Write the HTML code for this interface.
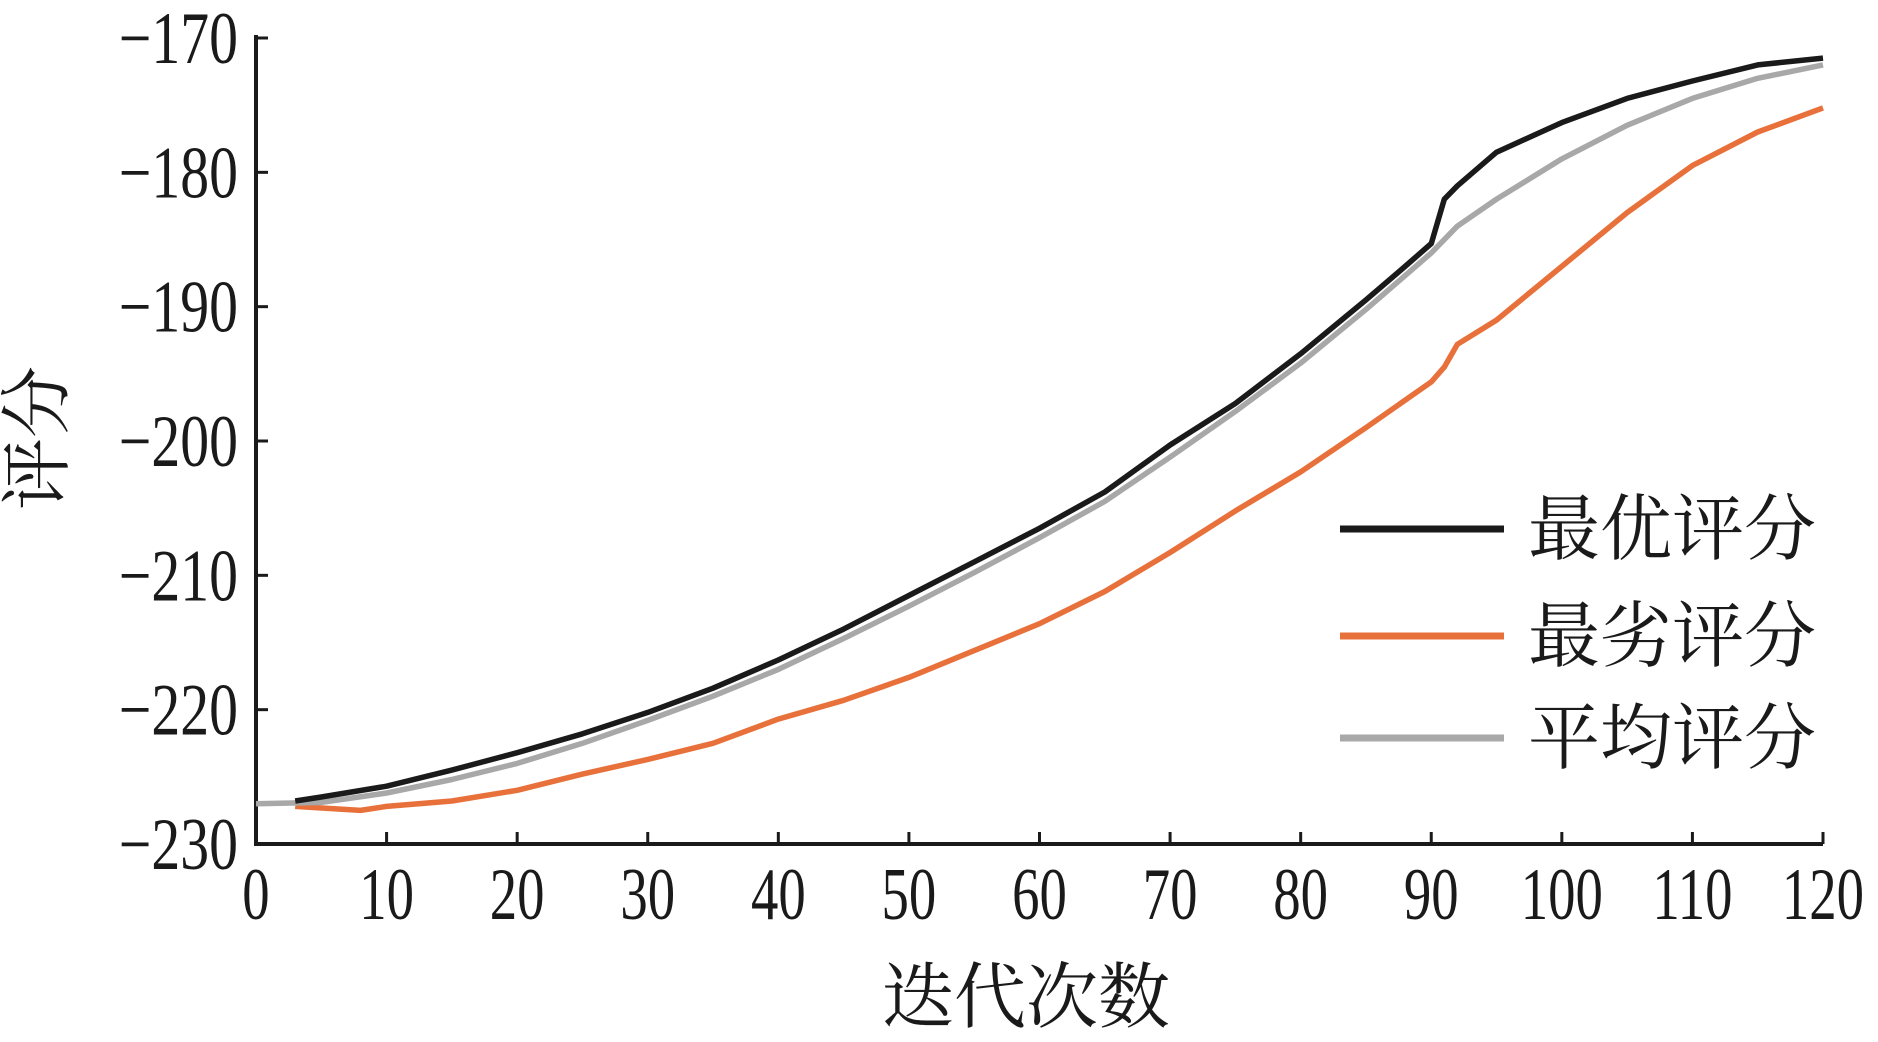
<!DOCTYPE html>
<html><head><meta charset="utf-8"><style>
html,body{margin:0;padding:0;background:#fff;}
svg{display:block;}
text{font-family:"Liberation Serif","Noto Serif CJK SC",serif;fill:#1a1a1a;}
</style></head><body>
<svg id="chart" width="1878" height="1042" viewBox="0 0 1878 1042" xmlns="http://www.w3.org/2000/svg">
<g id="axes"></g>
<g id="series"></g>
<g id="legend"></g>
</svg>
<script>
const xTicks=[0,10,20,30,40,50,60,70,80,90,100,110,120];
const yTicks=[-170,-180,-190,-200,-210,-220,-230];
const bestX=[3,5,10,15,20,25,30,35,40,45,50,55,60,65,70,75,80,85,88,90,91,92,95,100,105,110,115,120];
const bestY=[-226.8,-226.5,-225.7,-224.5,-223.2,-221.8,-220.2,-218.4,-216.3,-214,-211.5,-209,-206.5,-203.8,-200.3,-197.2,-193.5,-189.5,-187,-185.3,-182,-181,-178.5,-176.3,-174.5,-173.2,-172,-171.5];
const worstX=[3,8,10,15,20,25,30,35,40,45,50,55,60,65,70,75,80,85,90,91,92,95,100,105,110,115,120];
const worstY=[-227.2,-227.5,-227.2,-226.8,-226,-224.8,-223.7,-222.5,-220.7,-219.3,-217.6,-215.6,-213.6,-211.2,-208.3,-205.2,-202.3,-199,-195.6,-194.5,-192.8,-191,-187,-183,-179.5,-177,-175.2];
const avgX=[0,5,10,15,20,25,30,35,40,45,50,55,60,65,70,75,80,85,90,92,95,100,105,110,115,120];
const avgY=[-227,-226.9,-226.2,-225.2,-224,-222.5,-220.8,-219,-217,-214.7,-212.3,-209.8,-207.2,-204.5,-201.2,-197.8,-194.2,-190.2,-186,-184,-182,-179,-176.5,-174.5,-173,-172];
const seriesNames=["最优评分","最劣评分","平均评分"];
const seriesColors=["#1a1a1a","#e8703a","#a8a8a8"];

const NS="http://www.w3.org/2000/svg";
const X0=256,X1=1823,Y0=844,Y1=38;
function sx(v){return X0+(v-0)/(120-0)*(X1-X0);}
function sy(v){return Y0-(v-(-230))/(60)*(Y0-Y1);}
function mk(tag,attrs,parent){const e=document.createElementNS(NS,tag);for(const k in attrs)e.setAttribute(k,attrs[k]);parent.appendChild(e);return e;}
const axes=document.getElementById('axes');
const xa=mk('path',{d:`M${X0},${Y1-3} L${X0},${Y0} L${X1},${Y0}`,fill:'none',stroke:'#1a1a1a','stroke-width':4},axes);


xTicks.forEach(t=>{
  const l=mk('line',{x1:sx(t),x2:sx(t),y1:Y0,y2:Y0-12,stroke:'#1a1a1a','stroke-width':3},axes);
  
  
  const tx=mk('text',{x:sx(t),y:919,'font-size':74,'text-anchor':'middle',transform:`translate(${sx(t)},0) scale(0.74,1) translate(${-sx(t)},0)`},axes);
  tx.textContent=String(t);
  
  
});
yTicks.forEach(t=>{
  const l=mk('line',{x1:X0,x2:X0+12,y1:sy(t),y2:sy(t),stroke:'#1a1a1a','stroke-width':3},axes);
  
  
  const tx=mk('text',{x:238,y:sy(t)+25,'font-size':74,'text-anchor':'end',transform:`translate(238,0) scale(0.78,1) translate(-238,0)`},axes);
  tx.textContent=String(t).replace('-','\u2212');
  
  
});
const xt=mk('text',{x:1026,y:1022,'font-size':72,'text-anchor':'middle'},axes);
xt.textContent='迭代次数';


const yt=mk('text',{x:0,y:0,'font-size':72,'text-anchor':'middle',transform:'translate(62,438) rotate(-90)'},axes);
yt.textContent='评分';



const ser=document.getElementById('series');
const data=[[bestX,bestY],[worstX,worstY],[avgX,avgY]];
const order=[1,2,0];
order.forEach(i=>{
  const [xs,ys]=data[i];
  const pts=xs.map((x,j)=>sx(x).toFixed(1)+','+sy(ys[j]).toFixed(1)).join(' ');
  const p=mk('polyline',{points:pts,fill:'none',stroke:seriesColors[i],'stroke-width':5.5,'stroke-linejoin':'round'},ser);
  
  
});
const leg=document.getElementById('legend');
const legY=[529,636,738];
seriesNames.forEach((n,i)=>{
  const l=mk('line',{x1:1340,x2:1504,y1:legY[i],y2:legY[i],stroke:seriesColors[i],'stroke-width':7},leg);
  
  
  const t=mk('text',{x:1528,y:legY[i]+25,'font-size':72},leg);
  t.textContent=n;
  
  
});
</script>
</body></html>
